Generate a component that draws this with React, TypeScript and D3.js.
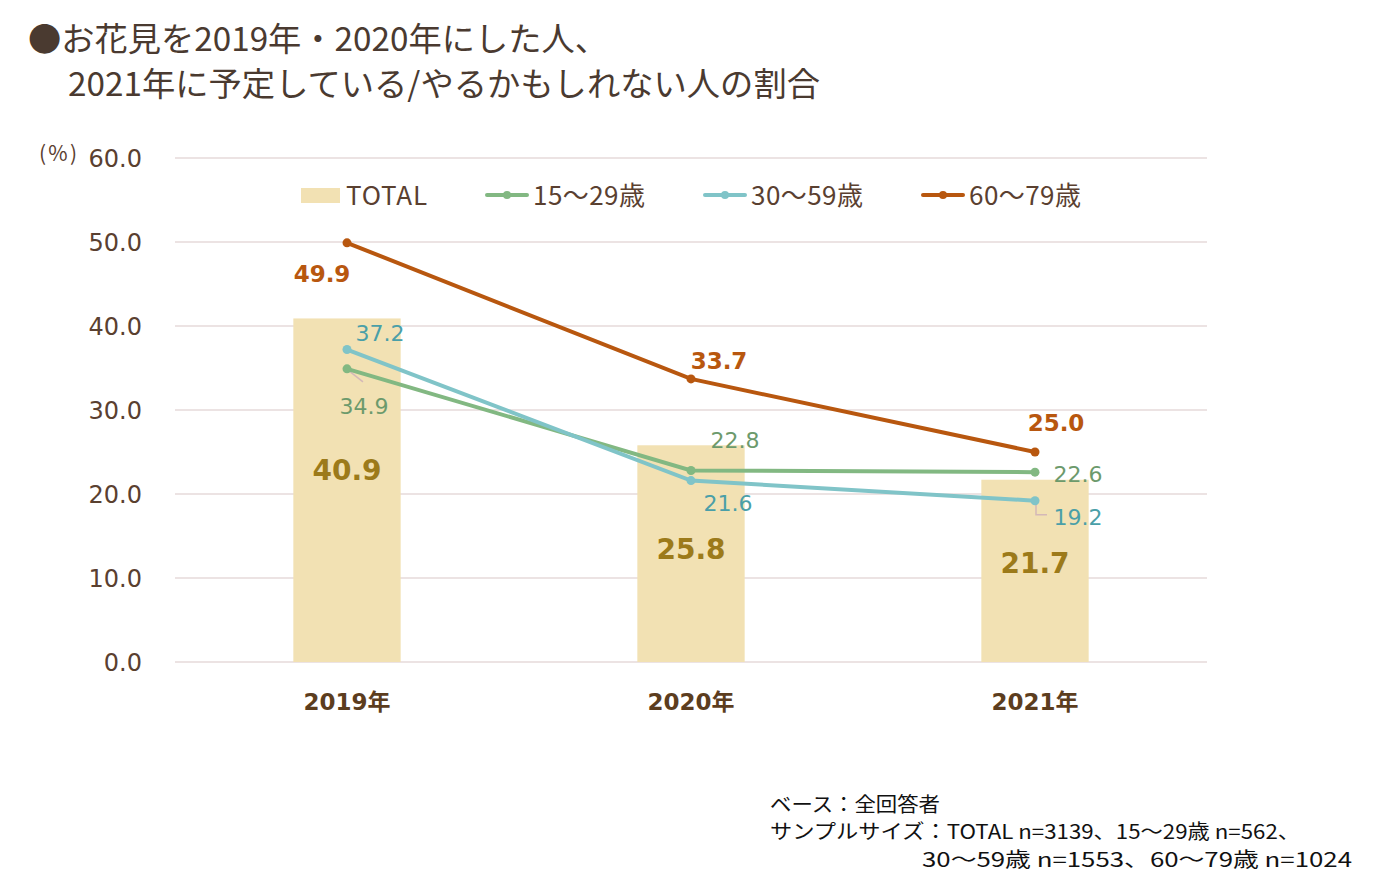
import { useEffect, useRef } from 'react';
import * as d3 from 'd3';

// data
const years = ['2019年', '2020年', '2021年'];
const total = [40.9, 25.8, 21.7];
const age15to29 = [34.9, 22.8, 22.6];
const age30to59 = [37.2, 21.6, 19.2];
const age60to79 = [49.9, 33.7, 25.0];
const yTicks = [0, 10, 20, 30, 40, 50, 60];

const W = 1376;
const H = 887;
const MARGIN = { top: 158, right: 169, bottom: 225, left: 175 };
const FONT = "'Noto Sans CJK JP', 'Noto Sans', sans-serif";
const NUM_FONT = "'DejaVu Sans', 'Noto Sans CJK JP', sans-serif";
const TEXT = '#5a4030';

const SERIES = [
  { name: '15～29歳', values: age15to29, color: '#82b882', label: '#6c9a6c', offsets: [[17, 37], [44, -30], [43, 2]] },
  { name: '30～59歳', values: age30to59, color: '#80c4c8', label: '#4a9fa8', offsets: [[33, -17], [37, 22], [43, 16]] },
  { name: '60～79歳', values: age60to79, color: '#b8570f', label: '#b8570f', offsets: [[-25, 31], [28, -18], [21, -29]], bold: true },
];
// vertical shift of the TOTAL labels from the bar middle
const totalLabelShift = [-20, -5, -8];

export default function App() {
  const svgRef = useRef<SVGSVGElement>(null);

  useEffect(() => {
    if (!svgRef.current) return;
    const svg = d3.select(svgRef.current);
    svg.selectAll('*').remove();

    const innerWidth = W - MARGIN.left - MARGIN.right;
    const innerHeight = H - MARGIN.top - MARGIN.bottom;

    const x = d3.scaleBand().domain(years).range([0, innerWidth]);
    const y = d3.scaleLinear().domain([0, 60]).range([innerHeight, 0]);
    const cx = (i: number) => (x(years[i]) ?? 0) + x.bandwidth() / 2;
    const barW = x.bandwidth() * 0.312;

    // Title
    const title = svg.append('g')
      .attr('font-family', FONT)
      .attr('font-size', 33)
      .attr('fill', '#4a3a30');
    title.append('text').attr('x', 28).attr('y', 51)
      .attr('textLength', 580).attr('lengthAdjust', 'spacingAndGlyphs')
      .text('●お花見を2019年・2020年にした人、');
    title.append('text').attr('x', 68).attr('y', 96)
      .attr('textLength', 752).attr('lengthAdjust', 'spacingAndGlyphs')
      .text('2021年に予定している/やるかもしれない人の割合');

    const g = svg.append('g').attr('transform', `translate(${MARGIN.left},${MARGIN.top})`);

    // grid
    g.selectAll('.grid')
      .data(yTicks)
      .enter()
      .append('line')
      .attr('x1', 0)
      .attr('x2', innerWidth)
      .attr('y1', (d) => y(d))
      .attr('y2', (d) => y(d))
      .attr('stroke', '#e6dada')
      .attr('stroke-width', 1.5);

    // y labels
    g.selectAll('.ytick')
      .data(yTicks)
      .enter()
      .append('text')
      .attr('x', -33)
      .attr('y', (d) => y(d) + 9)
      .attr('text-anchor', 'end')
      .attr('font-family', NUM_FONT)
      .attr('font-size', 24)
      .attr('fill', TEXT)
      .text((d) => d.toFixed(1));

    svg.append('text')
      .attr('x', 39)
      .attr('y', 161)
      .attr('font-family', FONT)
      .attr('font-size', 21)
      .attr('fill', TEXT)
      .attr('textLength', 38)
      .text('(%)');

    // bars
    g.selectAll('.bar')
      .data(total)
      .enter()
      .append('rect')
      .attr('x', (_, i) => cx(i) - barW / 2)
      .attr('y', (d) => y(d))
      .attr('width', barW)
      .attr('height', (d) => innerHeight - y(d))
      .attr('fill', '#f2e1b3');

    g.selectAll('.barlabel')
      .data(total)
      .enter()
      .append('text')
      .attr('x', (_, i) => cx(i))
      .attr('y', (d, i) => (y(d) + innerHeight) / 2 + totalLabelShift[i] + 10)
      .attr('text-anchor', 'middle')
      .attr('font-family', NUM_FONT)
      .attr('font-size', 28)
      .attr('font-weight', 'bold')
      .attr('fill', '#9c7a1a')
      .text((d) => d.toFixed(1));

    // leader lines
    const leader = d3.line<[number, number]>();
    g.append('path')
      .attr('d', leader([[cx(0) + 2, y(age15to29[0]) + 2], [cx(0) + 16, y(age15to29[0]) + 13]]))
      .attr('stroke', '#d4b8b8')
      .attr('stroke-width', 1.5)
      .attr('fill', 'none');
    g.append('path')
      .attr('d', leader([[cx(2) + 1, y(age30to59[2]) + 3], [cx(2) + 1, y(age30to59[2]) + 14], [cx(2) + 12, y(age30to59[2]) + 14]]))
      .attr('stroke', '#d4b8b8')
      .attr('stroke-width', 1.5)
      .attr('fill', 'none');

    // lines
    const line = d3.line<number>().x((_, i) => cx(i)).y((d) => y(d));
    SERIES.forEach((s) => {
      g.append('path')
        .datum(s.values)
        .attr('d', line)
        .attr('fill', 'none')
        .attr('stroke', s.color)
        .attr('stroke-width', 4);
      g.selectAll(null)
        .data(s.values)
        .enter()
        .append('circle')
        .attr('cx', (_, i) => cx(i))
        .attr('cy', (d) => y(d))
        .attr('r', 4.5)
        .attr('fill', s.color);
      g.selectAll(null)
        .data(s.values)
        .enter()
        .append('text')
        .attr('x', (_, i) => cx(i) + s.offsets[i][0])
        .attr('y', (d, i) => y(d) + s.offsets[i][1] + 8)
        .attr('text-anchor', 'middle')
        .attr('font-family', NUM_FONT)
        .attr('font-size', s.bold ? 23 : 22)
        .attr('font-weight', s.bold ? 'bold' : 'normal')
        .attr('fill', s.label)
        .text((d) => d.toFixed(1));
    });

    // x labels
    g.selectAll('.xlabel')
      .data(years)
      .enter()
      .append('text')
      .attr('x', (_, i) => cx(i))
      .attr('y', innerHeight + 48)
      .attr('text-anchor', 'middle')
      .attr('font-family', NUM_FONT)
      .attr('font-size', 23)
      .attr('font-weight', 'bold')
      .attr('fill', '#5c3d1e')
      .text((d) => d);

    // legend
    const legend = svg.append('g').attr('font-family', FONT).attr('font-size', 26).attr('fill', TEXT);
    legend.append('rect').attr('x', 301).attr('y', 188).attr('width', 39).attr('height', 15).attr('fill', '#f2e1b3');
    legend.append('text').attr('x', 346).attr('y', 205).attr('textLength', 81).text('TOTAL');
    const legendX = [487, 705, 923];
    SERIES.forEach((s, i) => {
      const lx = legendX[i];
      legend.append('line')
        .attr('x1', lx).attr('x2', lx + 40)
        .attr('y1', 195).attr('y2', 195)
        .attr('stroke', s.color).attr('stroke-width', 4).attr('stroke-linecap', 'round');
      legend.append('circle').attr('cx', lx + 20).attr('cy', 195).attr('r', 4).attr('fill', s.color);
      legend.append('text').attr('x', lx + 46).attr('y', 205).attr('textLength', 112).text(s.name);
    });

    // footnote
    const foot = svg.append('g').attr('font-family', FONT).attr('font-size', 20).attr('fill', '#111');
    foot.append('text').attr('x', 770).attr('y', 812)
      .attr('textLength', 170).attr('lengthAdjust', 'spacingAndGlyphs')
      .text('ベース：全回答者');
    foot.append('text').attr('x', 770).attr('y', 839)
      .attr('textLength', 530).attr('lengthAdjust', 'spacingAndGlyphs')
      .text('サンプルサイズ：TOTAL n=3139、15～29歳 n=562、');
    foot.append('text').attr('x', 922).attr('y', 867)
      .attr('textLength', 430).attr('lengthAdjust', 'spacingAndGlyphs')
      .text('30～59歳 n=1553、60～79歳  n=1024');
  }, []);

  return (
    <div style={{ margin: -8 }}>
      <svg ref={svgRef} width={W} height={H} style={{ display: 'block', background: '#fff' }} />
    </div>
  );
}
